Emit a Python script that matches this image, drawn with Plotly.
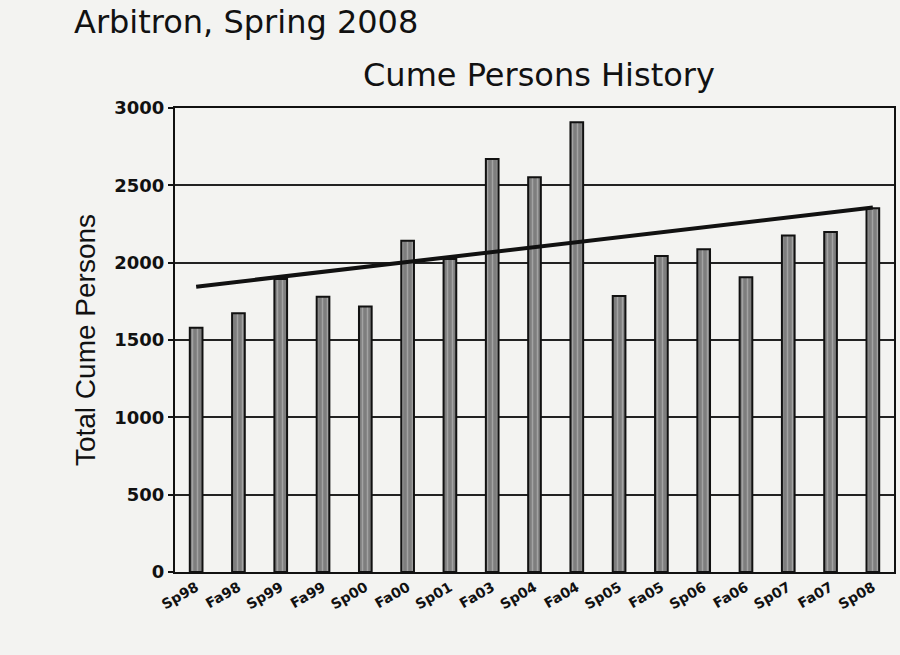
import plotly.graph_objects as go

periods = ["Sp98", "Fa98", "Sp99", "Fa99", "Sp00", "Fa00", "Sp01", "Fa03", "Sp04",
           "Fa04", "Sp05", "Fa05", "Sp06", "Fa06", "Sp07", "Fa07", "Sp08"]
cume = [1580, 1673, 1894, 1780, 1716, 2142, 2024, 2670, 2552,
        2908, 1785, 2043, 2086, 1905, 2175, 2198, 2352]
trend_x = ["Sp98", "Sp08"]
trend_y = [1845, 2356]
y_ticks = [0, 500, 1000, 1500, 2000, 2500, 3000]

bg = "#f3f3f1"

fig = go.Figure()
fig.add_trace(go.Bar(
    x=periods, y=cume, width=0.3,
    marker=dict(color="#8c8c8c", line=dict(color="#111111", width=2),
                pattern=dict(shape="|", fgcolor="#c8c8c8", bgcolor="#7e7e7e", size=5, solidity=0.3)),
    showlegend=False,
))
fig.add_trace(go.Scatter(
    x=trend_x, y=trend_y, mode="lines",
    line=dict(color="#111111", width=4), showlegend=False,
))

fig.update_layout(
    width=900, height=655,
    paper_bgcolor=bg, plot_bgcolor=bg,
    margin=dict(l=175, r=4, t=108, b=83),
    font=dict(family="Liberation Sans, Arial, sans-serif", color="#111111"),
    annotations=[
        dict(text="Arbitron, Spring 2008", xref="paper", yref="paper",
             x=-0.143, y=1.185, xanchor="left", yanchor="middle", showarrow=False,
             font=dict(size=32, family="DejaVu Sans, sans-serif")),
        dict(text="Cume Persons History", xref="paper", yref="paper",
             x=0.506, y=1.071, xanchor="center", yanchor="middle", showarrow=False,
             font=dict(size=32, family="DejaVu Sans, sans-serif")),
    ],
)
fig.update_xaxes(
    type="category", categoryorder="array", categoryarray=periods,
    showline=True, linecolor="#111111", linewidth=2, mirror=True,
    showgrid=False, ticks="", tickangle=-30,
    tickfont=dict(size=14, family="DejaVu Sans, sans-serif", color="#111111", weight="bold"),
)
fig.update_yaxes(
    range=[0, 3000], tickvals=y_ticks, ticktext=[str(v) for v in y_ticks],
    showline=True, linecolor="#111111", linewidth=2, mirror=True,
    showgrid=True, gridcolor="#222222", gridwidth=1.5, zeroline=False,
    ticks="outside", ticklen=5, tickcolor="#111111", tickwidth=1.5,
    tickfont=dict(size=18, family="DejaVu Sans, sans-serif", color="#111111", weight="bold"),
    title=dict(text="Total Cume Persons", standoff=10,
               font=dict(size=28, family="Liberation Sans, sans-serif")),
)
fig.write_html("out.html", config={"displayModeBar": False},
               post_script="document.body.style.margin='0';")
